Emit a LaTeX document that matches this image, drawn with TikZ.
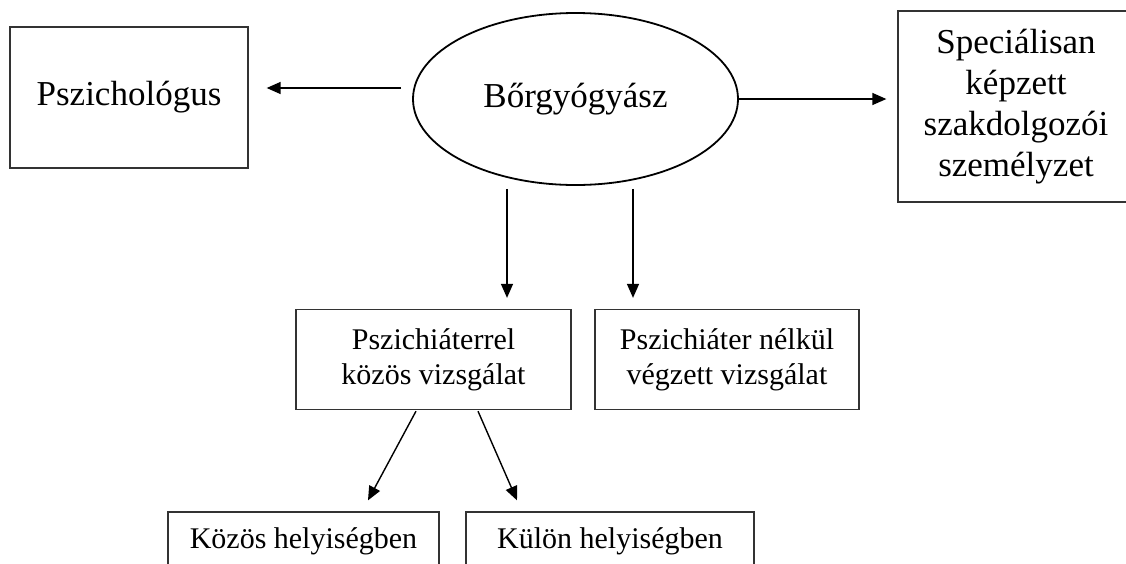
\documentclass[tikz,border=0pt]{standalone}
\usepackage{fontspec}
\setmainfont{Liberation Serif}
\usepackage{tikz}
\usetikzlibrary{arrows.meta, shapes.geometric, calc}

\begin{document}
\begin{tikzpicture}[x=1pt, y=-1pt,
        box/.style={draw=black!80, line width=1.3pt, rectangle, align=center, inner sep=0pt},
        bigtext/.style={font=\fontsize{35}{41}\selectfont},
        smalltext/.style={font=\fontsize{30}{35}\selectfont},
        arr/.style={line width=1.4pt, -{Triangle[length=14pt, width=12pt]}}]
        \useasboundingbox (0,0) rectangle (1126,563);
        \fill[white] (0,0) rectangle (1126,563);
        \clip (0,0) rectangle (1126,563);

        % Dermatologist
        \node (derm) [draw, ellipse, line width=1.8pt, minimum width=325pt, minimum height=172pt, inner sep=0pt, bigtext] at (575.5,99) {Bőrgyógyász};

        % Psychologist
        \node (psych) [box, minimum width=238pt, minimum height=141pt, bigtext] at (129,97.5) {Pszichológus};

        % Trained staff
        \node (staff) [box, minimum width=236pt, minimum height=191pt, bigtext] at (1016,106.5) {Speciálisan\\képzett\\szakdolgozói\\személyzet};

        % Examinations
        \node (withpsy) [box, minimum width=275pt, minimum height=100pt, smalltext] at (433.5,359.5) {Pszichiáterrel\\közös vizsgálat};
        \node (nopsy) [box, minimum width=264pt, minimum height=100pt, smalltext] at (727,359.5) {Pszichiáter nélkül\\végzett vizsgálat};

        % Rooms
        \node (common) [box, minimum width=271pt, minimum height=58pt, smalltext] at (303.5,541) {Közös helyiségben};
        \node (separate) [box, minimum width=288pt, minimum height=58pt, smalltext] at (610,541) {Külön helyiségben};

        % Arrows
        \draw[arr] ($(derm.west)+(-11pt,11pt)$) -- ($(derm.west -| psych.east)+(18pt,11pt)$);
        \draw[arr] (derm.east) -- ($(derm.east -| staff.west)+(-11pt,0pt)$);
        \draw[arr] ($(derm.south)+(-68.5pt,-3pt)$) -- ($(withpsy.north)+(73.5pt,11pt)$);
        \draw[arr] ($(derm.south)+(57.5pt,-3pt)$) -- ($(nopsy.north)+(-94pt,11pt)$);
        \draw[arr] ($(withpsy.south)+(-17.5pt,-1pt)$) -- ($(common.north)+(64.5pt,11pt)$);
        \draw[arr] ($(withpsy.south)+(44.5pt,-1pt)$) -- ($(separate.north)+(-93pt,11pt)$);
    \end{tikzpicture}
\end{document}
